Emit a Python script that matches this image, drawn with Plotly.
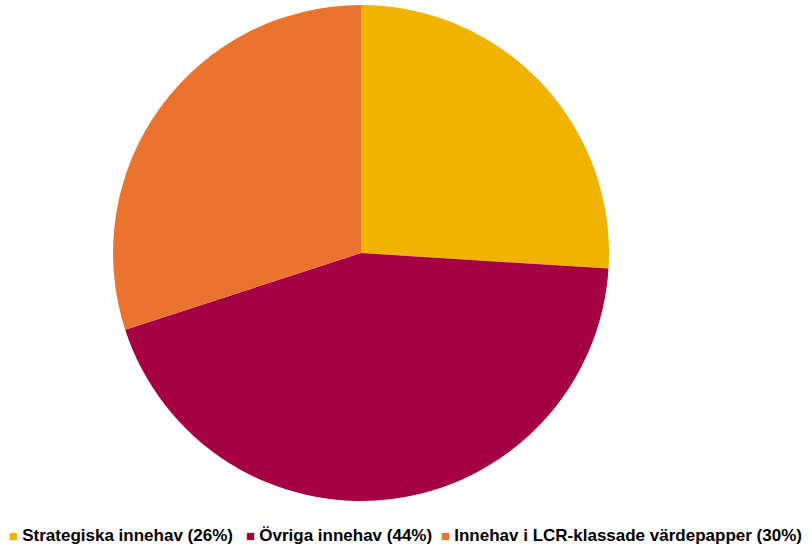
import plotly.graph_objects as go

labels = ["Strategiska innehav (26%)", "Övriga innehav (44%)", "Innehav i LCR-klassade värdepapper (30%)"]
values = [26, 44, 30]
colors = ["#F0B400", "#A50044", "#EB7330"]
legend_x = [0.009, 0.300, 0.541]  # paper positions of legend entries

fig = go.Figure(go.Pie(
    labels=labels, values=values, sort=False, direction="clockwise", rotation=0,
    marker=dict(colors=colors, line=dict(width=0)),
    textinfo="none", hoverinfo="label+value",
    domain=dict(x=[0.1392, 0.7500], y=[0.0824, 0.9908]),
    showlegend=False,
))
for lab, col, lx in zip(labels, colors, legend_x):
    fig.add_annotation(
        x=lx, y=1 - 535 / 546, xref="paper", yref="paper", xanchor="left", yanchor="middle",
        showarrow=False,
        text=f"<span style='color:{col};font-size:15px'>■ </span><b>{lab}</b>",
        font=dict(family="Liberation Sans, Arial, sans-serif", size=17, color="#000000"),
    )
fig.update_layout(
    width=812, height=546,
    margin=dict(l=0, r=0, t=0, b=0),
    paper_bgcolor="white", plot_bgcolor="white",
    showlegend=False,
    font=dict(family="Liberation Sans, Arial, sans-serif"),
)
fig.write_html("out.html", config={"displayModeBar": False},
               post_script="document.body.style.margin='0';document.body.style.overflow='hidden';")
